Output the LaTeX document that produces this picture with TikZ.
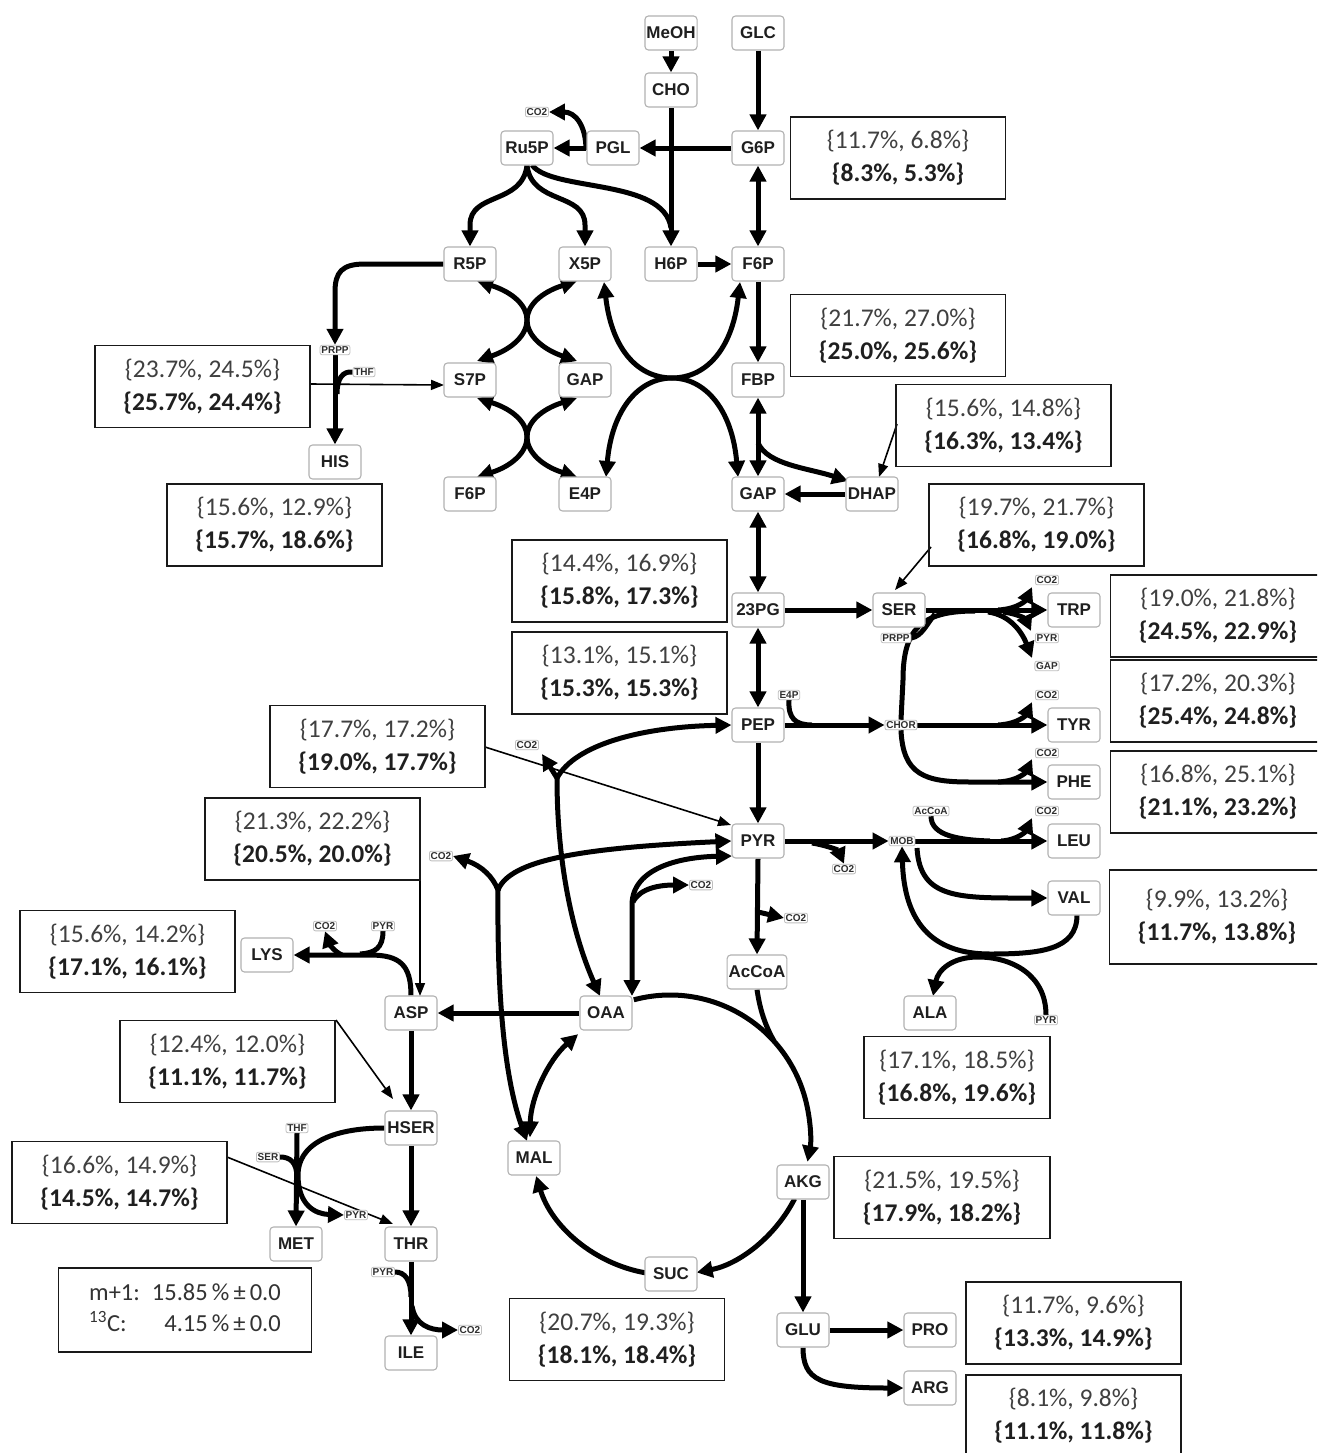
\documentclass[tikz,border=0pt]{standalone}
\usepackage{fontspec}
\setmainfont{Carlito}
\newfontfamily\nodefont{Liberation Sans}
\usetikzlibrary{arrows.meta}
\pgfdeclarelayer{bg}
\pgfsetlayers{bg,main}
\newcommand\anntext[2]{{\color{black!75}\{#1\}}\\\textbf{\{#2\}}}
\tikzset{
  met/.style={draw=black!30, line width=1.1pt, rounded corners=3.5pt, fill=white, minimum width=52pt, minimum height=34pt, inner sep=1.5pt, font=\nodefont\bfseries\fontsize{17}{17}\selectfont, text=black!88},
  sm/.style={draw=black!25, line width=0.8pt, rounded corners=2pt, fill=white, inner sep=1.3pt, font=\nodefont\bfseries\fontsize{10}{10}\selectfont, text=black!82},
  flux/.style={line width=5pt, -{Triangle[length=16pt,width=16pt]}},
  fluxb/.style={line width=5pt, {Triangle[length=16pt,width=16pt]}-{Triangle[length=16pt,width=16pt]}},
  fluxl/.style={line width=5pt},
  ptr/.style={line width=1.6pt, -{Triangle[length=13pt,width=10pt]}},
  ann/.style={draw=black!90, line width=1.8pt, minimum width=215pt, minimum height=82pt, align=center, font=\fontsize{25.5}{33}\selectfont, text=black!88, inner sep=0pt},
}
\begin{document}
\begin{tikzpicture}[x=1pt,y=-1pt]
\useasboundingbox (0,0) rectangle (1317,1453);
\begin{pgfonlayer}{bg}
\fill[white] (0,0) rectangle (1317,1453);
\end{pgfonlayer}
\clip (0,0) rectangle (1317,1453);
% metabolites
\node[met] (MeOH) at (671,33) {MeOH};
\node[met] (GLC) at (758,33) {GLC};
\node[met] (CHO) at (671,90) {CHO};
\node[sm] (co2a) at (537,112) {CO2};
\node[met] (Ru5P) at (527,148) {Ru5P};
\node[met] (PGL) at (613,148) {PGL};
\node[met] (G6P) at (758,148) {G6P};
\node[met] (R5P) at (470,264) {R5P};
\node[met] (X5P) at (585,264) {X5P};
\node[met] (H6P) at (671,264) {H6P};
\node[met] (F6P) at (758,264) {F6P};
\node[met] (S7P) at (470,380) {S7P};
\node[met] (GAPl) at (585,380) {GAP};
\node[met] (FBP) at (758,380) {FBP};
\node[sm] (prpp) at (335,350) {PRPP};
\node[sm] (thfh) at (364,372) {THF};
\node[met] (HIS) at (335,462) {HIS};
\node[met] (F6Pl) at (470,494) {F6P};
\node[met] (E4P) at (585,494) {E4P};
\node[met] (GAP) at (758,494) {GAP};
\node[met] (DHAP) at (872,494) {DHAP};
\node[met] (PG) at (758,610) {23PG};
\node[met] (SER) at (899,610) {SER};
\node[met] (TRP) at (1074,610) {TRP};
\node[sm] (co2trp) at (1047,580) {CO2};
\node[sm] (pyrtrp) at (1047,638) {PYR};
\node[sm] (gaptrp) at (1047,666) {GAP};
\node[sm] (prpptrp) at (896,638) {PRPP};
\node[met] (PEP) at (758,725) {PEP};
\node[sm] (e4pc) at (789,695) {E4P};
\node[sm] (CHOR) at (901,725) {CHOR};
\node[met] (TYR) at (1074,725) {TYR};
\node[sm] (co2tyr) at (1047,695) {CO2};
\node[met] (PHE) at (1074,782) {PHE};
\node[sm] (co2phe) at (1047,753) {CO2};
\node[met] (PYR) at (758,841) {PYR};
\node[sm] (MOB) at (902,841) {MOB};
\node[met] (LEU) at (1074,841) {LEU};
\node[sm] (accleu) at (931,811) {AcCoA};
\node[sm] (co2leu) at (1047,811) {CO2};
\node[sm] (co2pm) at (844,869) {CO2};
\node[sm] (co2oaa) at (701,885) {CO2};
\node[sm] (co2acc) at (796,918) {CO2};
\node[met] (VAL) at (1074,898) {VAL};
\node[met, minimum width=56pt] (AcCoA) at (757,972) {AcCoA};
\node[met] (ALA) at (930,1013) {ALA};
\node[sm] (pyrala) at (1046,1020) {PYR};
\node[sm] (co2pep) at (527,745) {CO2};
\node[sm] (co2mal) at (441,856) {CO2};
\node[met] (LYS) at (267,955) {LYS};
\node[sm] (co2lys) at (325,926) {CO2};
\node[sm] (pyrlys) at (383,926) {PYR};
\node[met] (ASP) at (411,1013) {ASP};
\node[met] (OAA) at (606,1013) {OAA};
\node[met] (HSER) at (411,1128) {HSER};
\node[sm] (thfm) at (297,1128) {THF};
\node[sm] (serm) at (268,1157) {SER};
\node[met] (MAL) at (534,1158) {MAL};
\node[met] (AKG) at (803,1182) {AKG};
\node[sm] (pyrm) at (356,1215) {PYR};
\node[met] (MET) at (296,1244) {MET};
\node[met] (THR) at (411,1244) {THR};
\node[met] (SUC) at (671,1274) {SUC};
\node[sm] (pyri) at (383,1272) {PYR};
\node[met] (GLU) at (803,1330) {GLU};
\node[met] (PRO) at (930,1330) {PRO};
\node[sm] (co2i) at (470,1330) {CO2};
\node[met] (ILE) at (411,1353) {ILE};
\node[met] (ARG) at (930,1388) {ARG};
% annotation boxes
\node[ann] (a1) at (898,158) {\anntext{11.7\%, 6.8\%}{8.3\%, 5.3\%}};
\node[ann] (a2) at (898,335.5) {\anntext{21.7\%, 27.0\%}{25.0\%, 25.6\%}};
\node[ann] (a3) at (1003.5,425.5) {\anntext{15.6\%, 14.8\%}{16.3\%, 13.4\%}};
\node[ann] (a4) at (202.5,386.5) {\anntext{23.7\%, 24.5\%}{25.7\%, 24.4\%}};
\node[ann] (a5) at (274.5,525) {\anntext{15.6\%, 12.9\%}{15.7\%, 18.6\%}};
\node[ann] (a6) at (1036.5,525) {\anntext{19.7\%, 21.7\%}{16.8\%, 19.0\%}};
\node[ann] (a7) at (619.5,581) {\anntext{14.4\%, 16.9\%}{15.8\%, 17.3\%}};
\node[ann] (a8) at (1218,616) {\anntext{19.0\%, 21.8\%}{24.5\%, 22.9\%}};
\node[ann] (a9) at (619.5,673) {\anntext{13.1\%, 15.1\%}{15.3\%, 15.3\%}};
\node[ann] (a10) at (1218,701) {\anntext{17.2\%, 20.3\%}{25.4\%, 24.8\%}};
\node[ann] (a11) at (377.5,746.5) {\anntext{17.7\%, 17.2\%}{19.0\%, 17.7\%}};
\node[ann] (a12) at (1218,792) {\anntext{16.8\%, 25.1\%}{21.1\%, 23.2\%}};
\node[ann] (a13) at (312.5,839) {\anntext{21.3\%, 22.2\%}{20.5\%, 20.0\%}};
\node[ann] (a14) at (127.5,951.5) {\anntext{15.6\%, 14.2\%}{17.1\%, 16.1\%}};
\node[ann, minimum height=94pt] (a15) at (1217,917) {\anntext{9.9\%, 13.2\%}{11.7\%, 13.8\%}};
\node[ann] (a16) at (227.5,1061.5) {\anntext{12.4\%, 12.0\%}{11.1\%, 11.7\%}};
\node[ann, minimum width=186pt] (a17) at (957,1077.5) {\anntext{17.1\%, 18.5\%}{16.8\%, 19.6\%}};
\node[ann] (a18) at (119.5,1182.5) {\anntext{16.6\%, 14.9\%}{14.5\%, 14.7\%}};
\node[ann, minimum width=216pt] (a19) at (942,1197.5) {\anntext{21.5\%, 19.5\%}{17.9\%, 18.2\%}};
\node[ann] (a21) at (617,1339.5) {\anntext{20.7\%, 19.3\%}{18.1\%, 18.4\%}};
\node[ann] (a22) at (1073.5,1323) {\anntext{11.7\%, 9.6\%}{13.3\%, 14.9\%}};
\node[ann] (a23) at (1073.5,1416) {\anntext{8.1\%, 9.8\%}{11.1\%, 11.8\%}};
\node[ann, minimum width=253pt, minimum height=84pt, font=\fontsize{24.5}{31}\selectfont, text=black!80] (stat) at (185,1310) {\begin{tabular}{@{}l@{\hspace{12pt}}r@{}}m+1: & 15.85\,\%\,±\,0.0\\\textsuperscript{13}C: & 4.15\,\%\,±\,0.0\end{tabular}};

\begin{pgfonlayer}{bg}
% upper part
\draw[flux] (MeOH.south) -- (CHO.north);
\draw[flux] (GLC.south) -- (G6P.north);
\draw[flux] (G6P.west) -- (PGL.east);
\draw[flux] (PGL.west) -- (Ru5P.east);
\draw[flux] (586,150) .. controls (586,125) and (575,112) .. (co2a.east);
\draw[flux] (CHO.south) -- (H6P.north);
\draw[fluxl] (532,165) .. controls (552,192) and (664,178) .. (671,228);
\draw[flux] (Ru5P.south) .. controls (522,205) and (470,192) .. (470,225) -- (R5P.north);
\draw[flux] (Ru5P.south) .. controls (532,205) and (585,192) .. (585,225) -- (X5P.north);
\draw[flux] (H6P.east) -- (F6P.west);
\draw[fluxb] (G6P.south) -- (F6P.north);
\draw[flux] (F6P.south) -- (FBP.north);
\draw[fluxb] (FBP.south) -- (GAP.north);
\draw[flux] (758,443) .. controls (768,465) and (808,468) .. (848,481);
\draw[flux] (DHAP.west) -- (GAP.east);
\draw[fluxb] (GAP.south) -- (PG.north);
\draw[flux] (PG.east) -- (SER.west);
\draw[fluxb] (PG.south) -- (PEP.north);
\draw[flux] (PEP.south) -- (PYR.north);
\draw[flux] (PYR.south) -- (AcCoA.north);
\draw[flux] (758,912) -- (co2acc.west);
% pentose phosphate X shapes
\draw[fluxb] (477,281) .. controls (512,292) and (527,305) .. (527,320) .. controls (527,335) and (512,349) .. (477,361);
\draw[fluxb] (577,281) .. controls (542,292) and (527,305) .. (527,320) .. controls (527,335) and (542,349) .. (577,361);
\draw[fluxb] (477,398) .. controls (512,409) and (527,422) .. (527,437) .. controls (527,452) and (512,466) .. (477,477);
\draw[fluxb] (577,398) .. controls (542,409) and (527,422) .. (527,437) .. controls (527,452) and (542,466) .. (577,477);
\draw[fluxb] (604,282) .. controls (612,352) and (640,378) .. (672,378) .. controls (704,378) and (732,352) .. (740,282);
\draw[fluxb] (606,477) .. controls (612,408) and (640,378) .. (672,378) .. controls (704,378) and (732,408) .. (738,477);
% histidine
\draw[flux] (R5P.west) -- (365,264) .. controls (342,264) and (335,272) .. (335,292) -- (prpp.north);
\draw[flux] (prpp.south) -- (HIS.north);
\draw[fluxl] (thfh.west) .. controls (343,371) and (337,378) .. (337,394);
% aromatic amino acids
\draw[flux] (SER.east) -- (TRP.west);
\draw[fluxl] (CHOR.north) -- (903,680) .. controls (903,630) and (920,611) .. (975,611);
\draw[fluxl] (prpptrp.east) .. controls (922,636) and (926,625) .. (935,614);
\draw[flux] (998,610) .. controls (1018,609) and (1026,600) .. (1032,587);
\draw[flux] (1003,612) .. controls (1020,614) and (1026,620) .. (1031,631);
\draw[flux] (988,612) .. controls (1010,615) and (1022,632) .. (1032,658);
\draw[flux] (PEP.east) -- (CHOR.west);
\draw[fluxl] (e4pc.south) .. controls (788,718) and (795,725) .. (812,725);
\draw[flux] (CHOR.east) -- (TYR.west);
\draw[flux] (998,725) .. controls (1018,724) and (1026,715) .. (1032,702);
\draw[flux] (CHOR.south) .. controls (903,775) and (925,782) .. (970,782) -- (PHE.west);
\draw[flux] (998,782) .. controls (1018,781) and (1026,772) .. (1032,759);
% branched chain
\draw[flux] (PYR.east) -- (MOB.west);
\draw[flux] (812,843) .. controls (825,845) and (838,850) .. (co2pm.north);
\draw[flux] (MOB.east) -- (LEU.west);
\draw[fluxl] (accleu.south) .. controls (931,836) and (960,840) .. (990,841);
\draw[flux] (1001,841) .. controls (1018,840) and (1026,831) .. (1032,818);
\draw[flux] (917,848) .. controls (920,900) and (960,898) .. (VAL.west);
\draw[flux] (1077,915) .. controls (1077,950) and (1040,954) .. (990,954) .. controls (930,954) and (904,920) .. (MOB.south);
\draw[flux] (pyrala.north) .. controls (1046,975) and (1012,957) .. (978,957) .. controls (952,957) and (938,970) .. (933,996);
% PEP / PYR / OAA / MAL shunts
\draw[flux] (557,778) .. controls (575,745) and (640,727) .. (PEP.west);
\draw[flux] (557,778) -- (542,754);
\draw[flux] (557,778) .. controls (557,870) and (575,940) .. (600,996);
\draw[flux] (498,890) .. controls (510,860) and (580,848) .. (PYR.west);
\draw[flux] (498,890) .. controls (493,877) and (482,866) .. (co2mal.east);
\draw[flux] (498,890) .. controls (497,1000) and (505,1080) .. (527,1141);
\draw[fluxb] (632,996) -- (632,905) .. controls (632,868) and (680,857) .. (732,856);
\draw[flux] (633,902) .. controls (640,888) and (660,885) .. (co2oaa.west);
% aspartate family
\draw[flux] (OAA.west) -- (ASP.east);
\draw[flux] (ASP.north) .. controls (411,965) and (400,955) .. (370,955) -- (LYS.east);
\draw[fluxl] (pyrlys.south) .. controls (383,948) and (375,953) .. (360,954);
\draw[flux] (342,955) .. controls (335,952) and (330,945) .. (co2lys.south);
\draw[flux] (ASP.south) -- (HSER.north);
\draw[flux] (HSER.south) -- (THR.north);
\draw[flux] (thfm.south) -- (MET.north);
\draw[flux] (HSER.west) .. controls (330,1128) and (298,1145) .. (298,1175) .. controls (298,1205) and (315,1214) .. (pyrm.west);
\draw[fluxl] (serm.east) .. controls (290,1157) and (297,1162) .. (297,1178);
\draw[flux] (THR.south) -- (ILE.north);
\draw[fluxl] (pyri.east) .. controls (405,1272) and (411,1280) .. (411,1297);
\draw[flux] (412,1306) .. controls (415,1325) and (430,1330) .. (co2i.west);
% TCA cycle
\draw[flux] (633.8,999.8) arc[start angle=-105, end angle=11, radius=140];
\draw[fluxl] (AcCoA.south) .. controls (760,1010) and (765,1025) .. (774,1041);
\draw[flux] (794.7,1198.6) arc[start angle=27, end angle=79, radius=140];
\draw[flux] (645.7,1272.9) arc[start angle=100, end angle=163, radius=140];
\draw[fluxb] (530,1137.4) arc[start angle=181, end angle=229, radius=140];
\draw[flux] (AKG.south) -- (GLU.north);
\draw[flux] (GLU.east) -- (PRO.west);
\draw[flux] (GLU.south) .. controls (803,1380) and (820,1388) .. (ARG.west);
% annotation pointers
\draw[ptr] (310,384) -- (444,385);
\draw[ptr] (897,424) -- (879,477);
\draw[ptr] (931,547) -- (895,590);
\draw[ptr] (485,747) -- (731,825);
\draw[ptr] (420,880) -- (420,996);
\draw[ptr] (336,1020) -- (393,1099);
\draw[ptr] (227,1157) -- (393,1224);
\end{pgfonlayer}
\end{tikzpicture}
\end{document}
